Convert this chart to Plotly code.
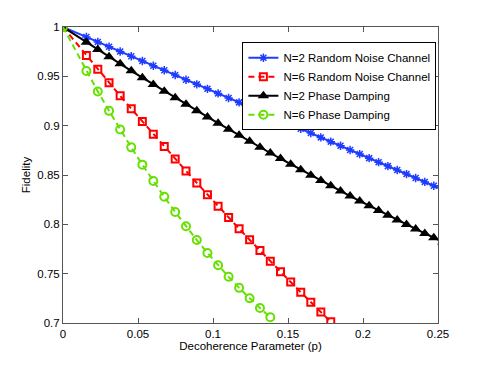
import plotly.graph_objects as go

# decoherence parameter p (shared by all curves)
p = [0, 0.0156, 0.0232, 0.0307, 0.0381, 0.0455, 0.0529, 0.0602, 0.0675, 0.0748,
     0.0820, 0.0892, 0.0963, 0.1034, 0.1104, 0.1174, 0.1244, 0.1313, 0.1382, 0.1450,
     0.1518, 0.1585, 0.1652, 0.1719, 0.1785, 0.1850, 0.1914, 0.1978, 0.2041, 0.2104,
     0.2166, 0.2228, 0.2290, 0.2351, 0.2412, 0.2472, 0.2532]

rn_n2 = [1.0, 0.9898, 0.9849, 0.9800, 0.9752, 0.9704, 0.9656, 0.9608, 0.9561, 0.9513,
         0.9466, 0.9419, 0.9373, 0.9327, 0.9281, 0.9236, 0.9190, 0.9145, 0.9100, 0.9056,
         0.9012, 0.8968, 0.8925, 0.8881, 0.8838, 0.8796, 0.8754, 0.8712, 0.8671, 0.8630,
         0.8590, 0.8550, 0.8509, 0.8470, 0.8430, 0.8391, 0.8352]

rn_n6 = [1.0, 0.9711, 0.9572, 0.9436, 0.9303, 0.9172, 0.9042, 0.8914, 0.8788, 0.8663,
         0.8541, 0.8420, 0.8301, 0.8184, 0.8070, 0.7956, 0.7844, 0.7734, 0.7626, 0.7520,
         0.7415, 0.7312, 0.7211, 0.7111, 0.7012]

pd_n2 = [1.0, 0.9845, 0.9771, 0.9698, 0.9627, 0.9556, 0.9486, 0.9418, 0.9350, 0.9283,
         0.9217, 0.9152, 0.9088, 0.9025, 0.8963, 0.8902, 0.8841, 0.8782, 0.8723, 0.8666,
         0.8609, 0.8553, 0.8498, 0.8444, 0.8390, 0.8338, 0.8287, 0.8237, 0.8188, 0.8139,
         0.8092, 0.8045, 0.7998, 0.7953, 0.7908, 0.7864, 0.7821]

pd_n6 = [1.0, 0.9554, 0.9347, 0.9150, 0.8962, 0.8780, 0.8605, 0.8439, 0.8279, 0.8125,
         0.7980, 0.7841, 0.7710, 0.7585, 0.7468, 0.7356, 0.7250, 0.7152, 0.7059]

x_ticks = [0, 0.05, 0.1, 0.15, 0.2, 0.25]
x_labels = ["0", "0.05", "0.1", "0.15", "0.2", "0.25"]
y_ticks = [0.7, 0.75, 0.8, 0.85, 0.9, 0.95, 1.0]
y_labels = ["0.7", "0.75", "0.8", "0.85", "0.9", "0.95", "1"]

FONT = "Liberation Sans, Arial, sans-serif"

fig = go.Figure()

fig.add_trace(go.Scatter(
    x=p, y=rn_n2, name="N=2 Random Noise Channel", mode="lines+markers",
    line=dict(color="#1e3cff", width=2),
    marker=dict(symbol="asterisk-open", size=7, line=dict(color="#1e3cff", width=1.5))
))
fig.add_trace(go.Scatter(
    x=p[:len(rn_n6)], y=rn_n6, name="N=6 Random Noise Channel", mode="lines+markers",
    line=dict(color="#ff0000", width=2, dash="6px,4px"),
    marker=dict(symbol="square-open", size=7, color="#ff0000", line=dict(color="#ff0000", width=2))
))
fig.add_trace(go.Scatter(
    x=p, y=pd_n2, name="N=2 Phase Damping", mode="lines+markers",
    line=dict(color="black", width=2),
    marker=dict(symbol="triangle-up", size=10, color="black")
))
fig.add_trace(go.Scatter(
    x=p[:len(pd_n6)], y=pd_n6, name="N=6 Phase Damping", mode="lines+markers",
    line=dict(color="#66e000", width=2, dash="6px,4px"),
    marker=dict(symbol="circle-open", size=8, color="#66e000", line=dict(color="#66e000", width=2))
))

axis_style = dict(
    showgrid=False, zeroline=False, showline=True, linecolor="#555555", linewidth=1,
    mirror="ticks", ticks="inside", ticklen=5, tickcolor="#555555", automargin=False,
    tickfont=dict(family=FONT, size=11.5, color="black"),
)

fig.update_xaxes(range=[0, 0.25], tickvals=x_ticks, ticktext=x_labels,
                 title=dict(text="Decoherence Parameter (p)", font=dict(family=FONT, size=11.5, color="black"), standoff=2),
                 **axis_style)
fig.update_yaxes(range=[0.7, 1.0], tickvals=y_ticks, ticktext=y_labels,
                 title=dict(text="Fidelity", font=dict(family=FONT, size=11.5, color="black"), standoff=4),
                 **axis_style)

# the page body adds an 8px offset, so the margins are shifted to compensate
fig.update_layout(
    width=485, height=365,
    margin=dict(l=55, r=55, t=19, b=50),
    plot_bgcolor="white", paper_bgcolor="white",
    font=dict(family=FONT, size=11.5, color="black"),
    legend=dict(x=0.9957, y=0.9486, xanchor="right", yanchor="top",
                bgcolor="white", bordercolor="black", borderwidth=1,
                font=dict(family=FONT, size=11.5, color="black"),
                tracegroupgap=0, itemwidth=30),
    showlegend=True,
)

fig.write_html("out.html")
